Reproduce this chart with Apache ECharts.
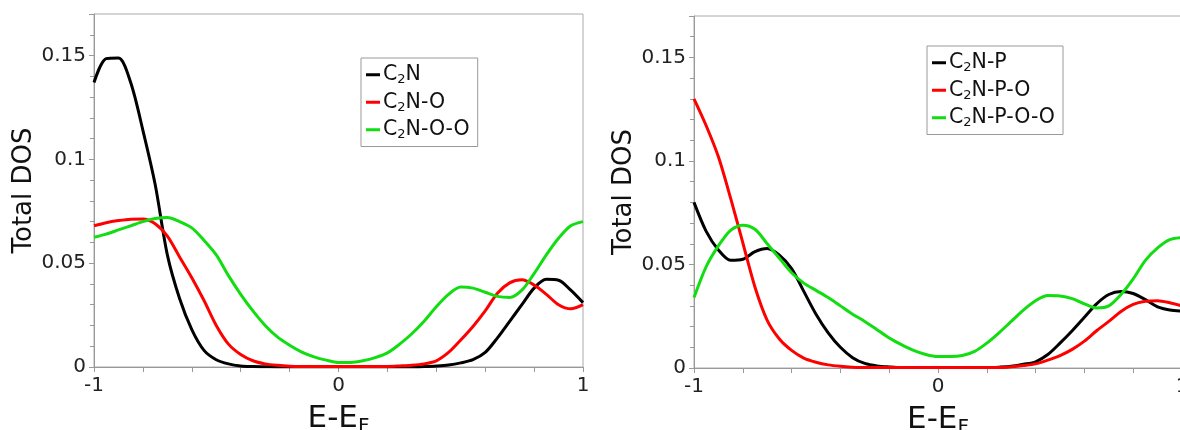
<!DOCTYPE html>
<html>
<head>
<meta charset="utf-8">
<script src="https://cdn.jsdelivr.net/npm/echarts@6/dist/echarts.min.js"></script>
<style>
html,body{margin:0;padding:0;background:#fff;}
#chart{width:1180px;height:430px;}
</style>
</head>
<body>
<div id="chart"></div>
<script>
// Energy grid (E - E_F)
const energy = [-1,-0.95,-0.9,-0.85,-0.8,-0.75,-0.7,-0.65,-0.6,-0.55,-0.5,-0.45,-0.4,-0.35,-0.3,-0.25,-0.2,-0.15,-0.1,-0.05,0,0.05,0.1,0.15,0.2,0.25,0.3,0.35,0.4,0.45,0.5,0.55,0.6,0.65,0.7,0.75,0.8,0.85,0.9,0.95,1];

// Left panel
const dosC2N = [0.137,0.1485,0.1488,0.137,0.114,0.088,0.054,0.033,0.018,0.008,0.0035,0.0015,0.0005,0.0002,0.0001,0,0,0,0,0,0,0,0,0,0,0,0,0.0002,0.0005,0.001,0.002,0.0035,0.007,0.014,0.022,0.030,0.038,0.0422,0.0418,0.037,0.031];
const dosC2NO = [0.068,0.0695,0.0705,0.0712,0.0713,0.069,0.063,0.053,0.043,0.032,0.020,0.011,0.006,0.003,0.0015,0.0008,0.0004,0.0003,0.0003,0.0003,0.0003,0.0003,0.0003,0.0003,0.0003,0.0005,0.0008,0.0015,0.003,0.007,0.013,0.0195,0.027,0.0355,0.0405,0.042,0.0395,0.035,0.030,0.028,0.030];
const dosC2NOO = [0.0625,0.064,0.066,0.068,0.070,0.0715,0.072,0.070,0.067,0.061,0.054,0.044,0.035,0.027,0.020,0.0145,0.0105,0.0072,0.0049,0.0033,0.0022,0.0022,0.003,0.0045,0.0068,0.011,0.016,0.022,0.029,0.035,0.0385,0.038,0.036,0.034,0.0335,0.037,0.045,0.054,0.062,0.068,0.070];

// Right panel
const dosC2NP = [0.080,0.066,0.057,0.052,0.0525,0.0562,0.0577,0.0545,0.048,0.037,0.026,0.017,0.010,0.005,0.0022,0.001,0.0005,0.0002,0.0002,0.0002,0.0002,0.0002,0.0002,0.0002,0.0002,0.0004,0.0008,0.0018,0.003,0.0065,0.012,0.018,0.0245,0.031,0.0355,0.037,0.036,0.033,0.0295,0.028,0.0275];
const dosC2NPO = [0.130,0.117,0.102,0.082,0.0605,0.039,0.023,0.014,0.0085,0.0048,0.0028,0.0015,0.0008,0.0004,0.0002,0.0002,0.0002,0.0002,0.0002,0.0002,0.0002,0.0002,0.0002,0.0002,0.0002,0.0002,0.0006,0.0012,0.002,0.0038,0.006,0.009,0.013,0.018,0.0225,0.0273,0.0307,0.0322,0.0325,0.0315,0.030];
const dosC2NPOO = [0.034,0.049,0.059,0.0665,0.069,0.067,0.060,0.053,0.046,0.041,0.0375,0.034,0.030,0.026,0.0225,0.0185,0.0145,0.0113,0.0085,0.0065,0.0055,0.0055,0.006,0.008,0.012,0.017,0.0225,0.028,0.0325,0.035,0.0348,0.0335,0.031,0.029,0.030,0.0355,0.043,0.052,0.058,0.062,0.063];

const leftNames = ['C2N','C2N-O','C2N-O-O'];
const rightNames = ['C2N-P','C2N-P-O','C2N-P-O-O'];
const colors = ['#000000','#ff0000','#11dd11'];
const yTicks = {min:0, max:0.17, interval:0.05};
const xTicks = {min:-1, max:1, interval:1};

const FONT = 'DejaVu Sans';
const pair = arr => energy.map((e,i)=>[e,arr[i]]);

function xAxis(gi){
  return {
    type:'value', gridIndex:gi, min:xTicks.min, max:xTicks.max, interval:xTicks.interval,
    name:'E-E{s|F}', nameLocation:'middle', nameGap:14,
    nameTextStyle:{fontFamily:FONT, fontSize:31, color:'#111', lineHeight:36,
      rich:{s:{fontFamily:FONT, fontSize:20, lineHeight:20, verticalAlign:'bottom', color:'#111'}}},
    axisLine:{show:true, onZero:false, lineStyle:{color:'#999', width:1}},
    axisTick:{show:true, length:5, lineStyle:{color:'#999'}},
    minorTick:{show:true, splitNumber:5, length:5, lineStyle:{color:'#999'}},
    splitLine:{show:false},
    axisLabel:{fontFamily:FONT, fontSize:20, color:'#222', margin:9}
  };
}
function yAxis(gi){
  return {
    type:'value', gridIndex:gi, min:yTicks.min, max:yTicks.max, interval:yTicks.interval,
    name:'Total DOS', nameLocation:'middle', nameGap:52, nameRotate:90,
    nameTextStyle:{fontFamily:FONT, fontSize:26, color:'#111'},
    axisLine:{show:true, onZero:false, lineStyle:{color:'#999', width:1}},
    axisTick:{show:true, length:5, lineStyle:{color:'#999'}},
    minorTick:{show:true, splitNumber:5, length:4, lineStyle:{color:'#999'}},
    splitLine:{show:false},
    axisLabel:{fontFamily:FONT, fontSize:20, color:'#222', margin:8, showMaxLabel:false}
  };
}
function legend(names, left, top){
  return {
    orient:'vertical', left:left, top:top, data:names,
    backgroundColor:'#fff', borderColor:'#999', borderWidth:1, borderRadius:0,
    padding:[5,8,5,5], itemGap:4, itemWidth:14, itemHeight:3, icon:'rect',
    formatter: n => n.replace('C2N','C{s|2}N'),
    textStyle:{fontFamily:FONT, fontSize:20.5, color:'#111', lineHeight:23.5, padding:[0,0,0,-2],
      rich:{s:{fontFamily:FONT, fontSize:13, lineHeight:11, verticalAlign:'bottom', color:'#111'}}}
  };
}
function series(name, data, ci, gi){
  return {name:name, type:'line', xAxisIndex:gi, yAxisIndex:gi, data:pair(data),
    smooth:0.3, showSymbol:false, symbol:'none',
    lineStyle:{color:colors[ci], width:3}, itemStyle:{color:colors[ci]}};
}

const chart = echarts.init(document.getElementById('chart'), null, {renderer:'canvas'});
chart.setOption({
  animation:false,
  backgroundColor:'#fff',
  grid:[
    {left:94, top:14, width:489, height:353, show:true, borderColor:'#aaa', borderWidth:1, backgroundColor:'transparent', outerBoundsMode:'none', containLabel:false},
    {left:694, top:16, width:488, height:352, show:true, borderColor:'#aaa', borderWidth:1, backgroundColor:'transparent', outerBoundsMode:'none', containLabel:false}
  ],
  xAxis:[xAxis(0), xAxis(1)],
  yAxis:[yAxis(0), yAxis(1)],
  legend:[legend(leftNames, 361, 58), legend(rightNames, 927, 46)],
  series:[
    series(leftNames[0], dosC2N, 0, 0),
    series(leftNames[1], dosC2NO, 1, 0),
    series(leftNames[2], dosC2NOO, 2, 0),
    series(rightNames[0], dosC2NP, 0, 1),
    series(rightNames[1], dosC2NPO, 1, 1),
    series(rightNames[2], dosC2NPOO, 2, 1)
  ]
});
</script>
</body>
</html>
